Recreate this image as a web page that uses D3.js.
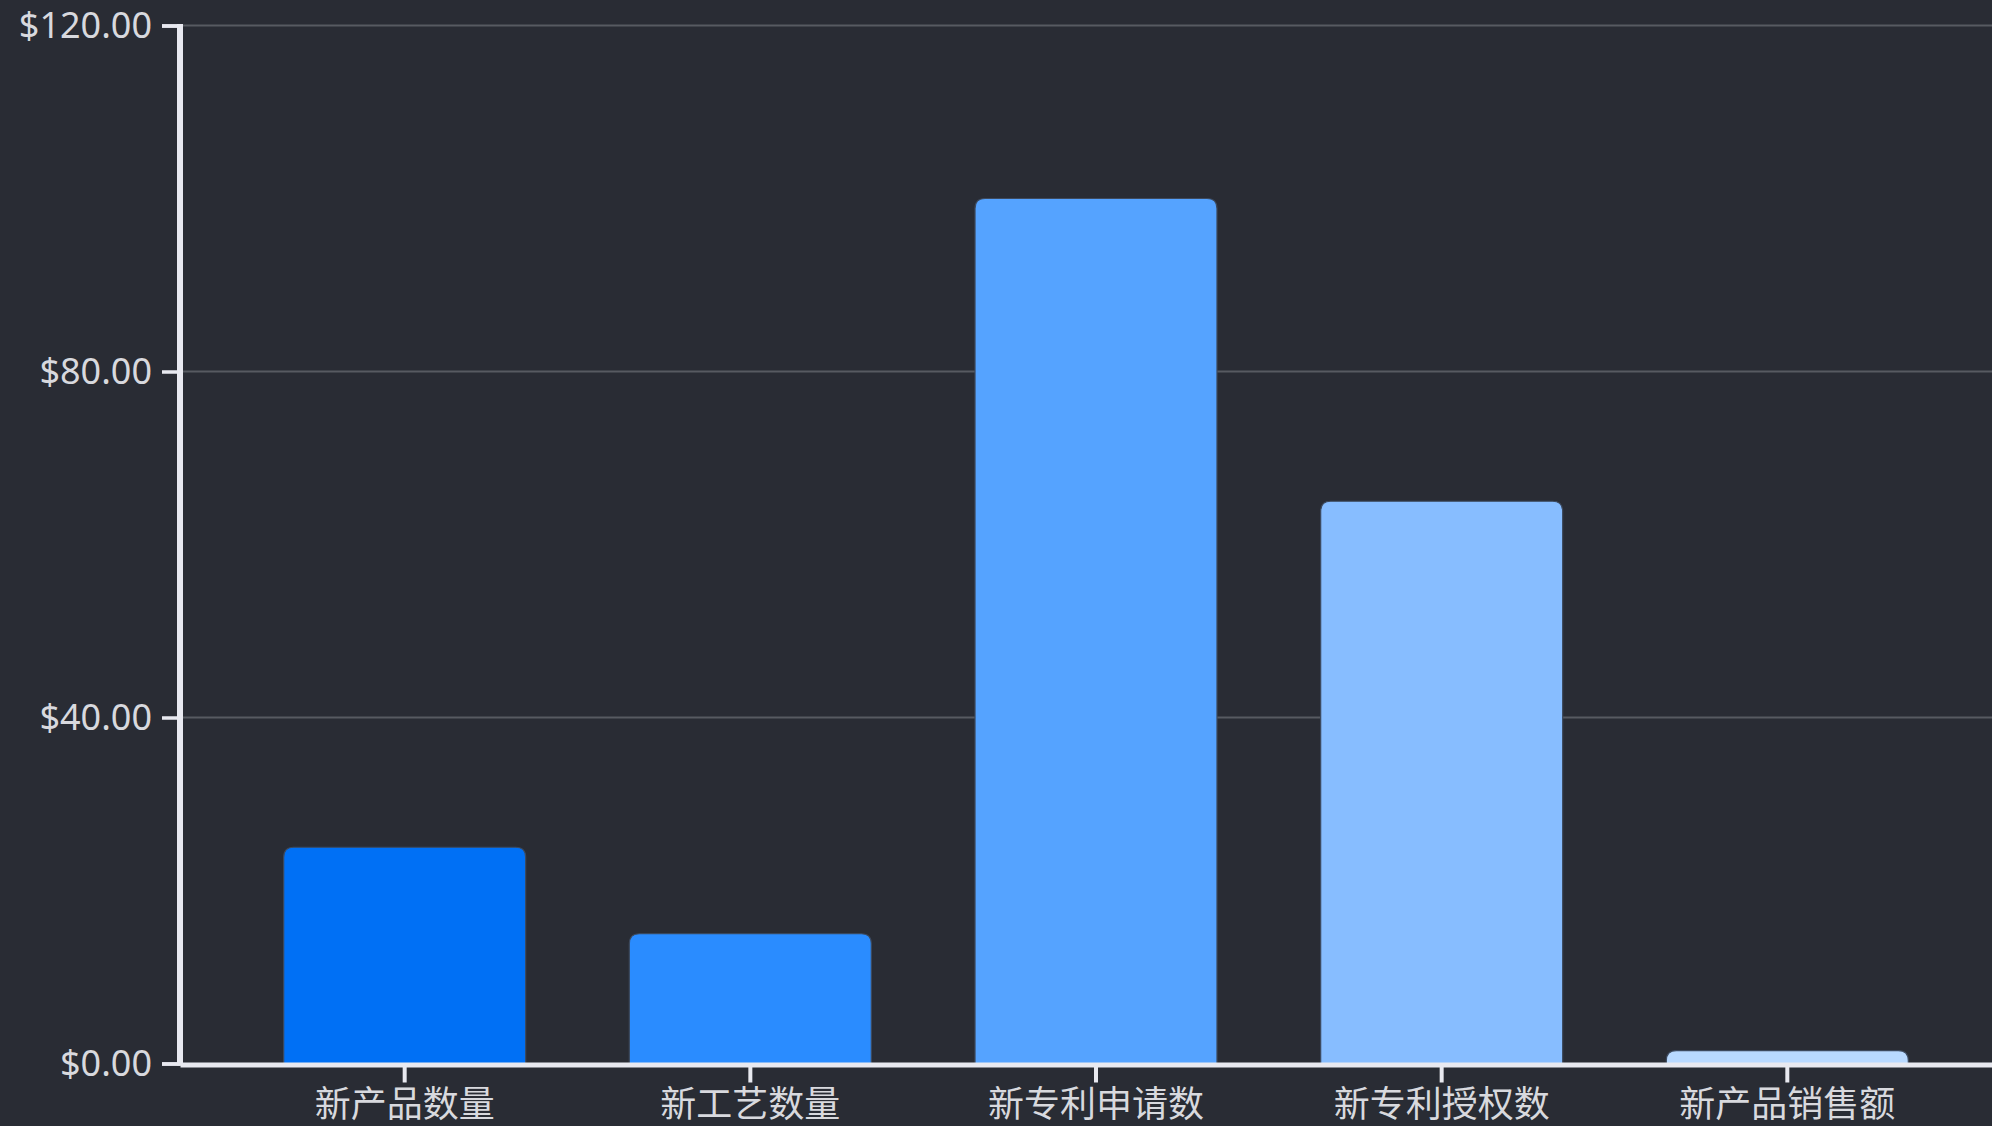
<!DOCTYPE html>
<html><head><meta charset="utf-8">
<script src="https://cdn.jsdelivr.net/npm/d3@7/dist/d3.min.js"></script>
<style>
html,body{margin:0;padding:0;background:#292c34;overflow:hidden;}
svg{display:block;}
</style></head>
<body>
<svg id="chart" width="1992" height="1126"></svg>
<script>
const categories = ["新产品数量","新工艺数量","新专利申请数","新专利授权数","新产品销售额"];
const values = [25, 15, 100, 65, 1.5];
const colors = ["#0070f5","#2a8cff","#55a3ff","#87bdff","#b8d9ff"];
const yTicks = [0, 40, 80, 120];

(function(){
const svg = d3.select("#chart");
const W = 1992, H = 1126;
const mLeft = 180, mTop = 25.5, mBottom = 1063.5;

const x = d3.scaleBand().domain(categories).range([mLeft, 2012]).paddingInner(0.3).paddingOuter(0.3);
const y = d3.scaleLinear().domain([0, 120]).range([mBottom, mTop]);

const font = "'Noto Sans CJK SC','Noto Sans',sans-serif";

// grid
svg.append("g").selectAll("line").data(yTicks.filter(d=>d>0)).join("line")
  .attr("x1", mLeft).attr("x2", W).attr("y1", d=>y(d)).attr("y2", d=>y(d))
  .attr("stroke", "#575a61").attr("stroke-width", 2);

// bars
const r = 10;
svg.append("g").selectAll("path").data(categories).join("path")
  .attr("d", (c,i) => {
    const x0 = x(c), x1 = x(c)+x.bandwidth(), y0 = y(values[i]), yb = y(0);
    const rr = Math.min(r, (yb-y0));
    return `M${x0},${yb}L${x0},${y0+rr}Q${x0},${y0} ${x0+rr},${y0}L${x1-rr},${y0}Q${x1},${y0} ${x1},${y0+rr}L${x1},${yb}Z`;
  })
  .attr("fill", (c,i)=>colors[i])
  .attr("stroke", "#3d4a5e").attr("stroke-width", 1.2);

// y axis
const yAxis = svg.append("g").attr("transform", `translate(${mLeft},0)`)
  .call(d3.axisLeft(y).tickValues(yTicks).tickSize(18).tickSizeOuter(18).tickPadding(10)
    .tickFormat(d => "$" + d3.format(".2f")(d)));
yAxis.select(".domain").attr("stroke", "#e8e9f0").attr("stroke-width", 3.5);
yAxis.selectAll(".tick line").attr("stroke", "#e8e9f0").attr("stroke-width", 3.5);
yAxis.selectAll(".tick text").attr("fill", "#d8d9de").attr("font-size", 36)
  .attr("font-family", "'Noto Sans','Open Sans',sans-serif").attr("dy", "0.34em");
svg.append("line").attr("x1", mLeft).attr("x2", mLeft).attr("y1", mTop-1.5).attr("y2", mBottom+2)
  .attr("stroke", "#e8e9f0").attr("stroke-width", 6);

// x axis
const xAxis = svg.append("g").attr("transform", `translate(0,${mBottom+1})`)
  .call(d3.axisBottom(x).tickSize(18).tickSizeOuter(0).tickPadding(9));
xAxis.select(".domain").attr("stroke", "#e8e9f0").attr("stroke-width", 5);
xAxis.selectAll(".tick line").attr("stroke", "#e8e9f0").attr("stroke-width", 4);
xAxis.selectAll(".tick text").attr("fill", "#d8d9de").attr("font-size", 36).attr("font-family", font);
})();
</script>
</body></html>
